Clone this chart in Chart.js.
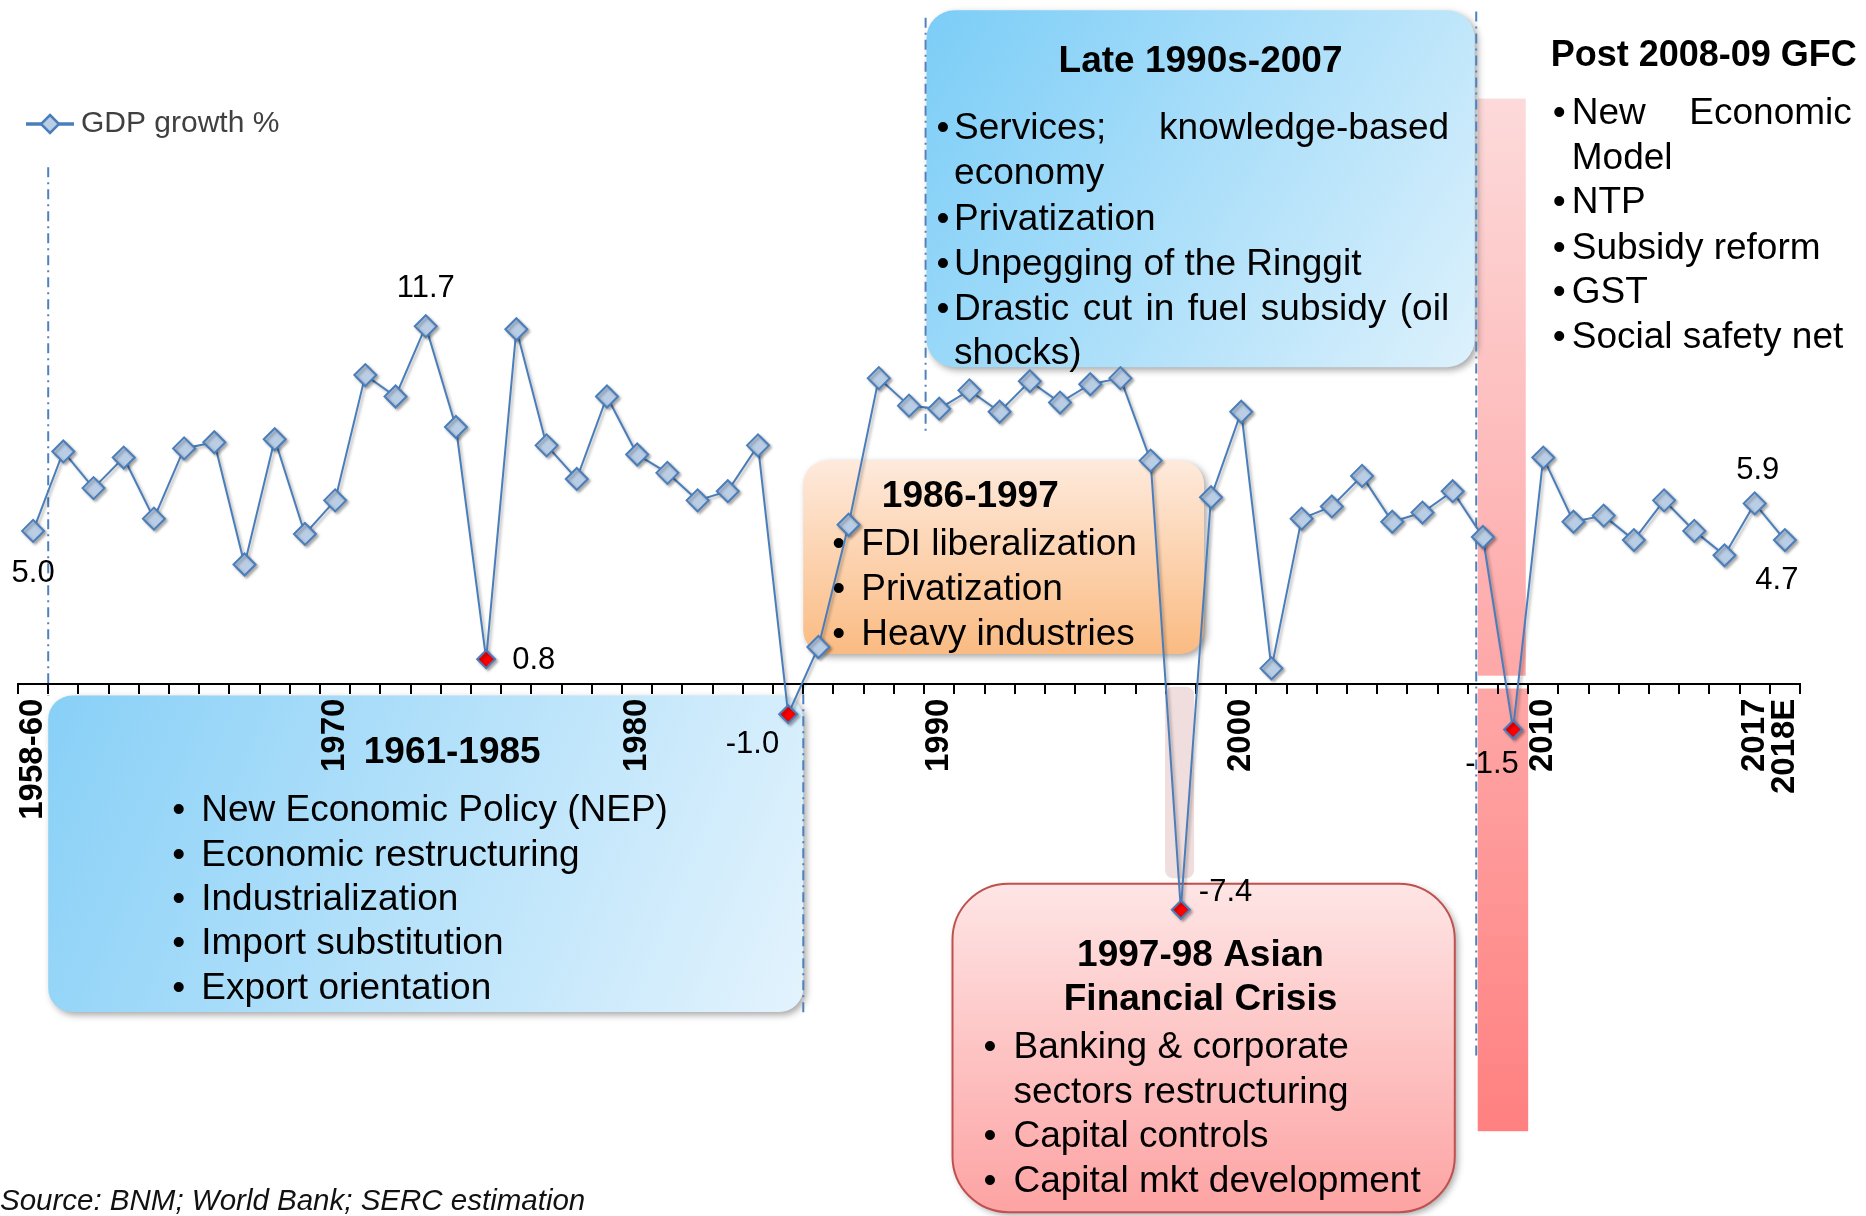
<!DOCTYPE html>
<html>
<head>
<meta charset="utf-8">
<script src="https://cdn.jsdelivr.net/npm/chart.js@4.4.1/dist/chart.umd.min.js"></script>
<style>
  body { margin: 0; background: #fff; }
  canvas { display: block; }
</style>
</head>
<body>
<canvas id="gdpChart" width="1866" height="1216"></canvas>
<script>
const FONT = "'Liberation Sans', Arial, sans-serif";

// categories: 1958-60 average, then one point per year up to the 2018 estimate
const years = ['1958-60'];
for (let y = 1961; y <= 2017; y++) years.push(String(y));
years.push('2018E');

// GDP growth %
const gdpGrowth = [
  5.0, 7.6, 6.4, 7.4, 5.4, 7.7, 7.9, 3.9, 8.0, 4.9,
  6.0, 10.1, 9.4, 11.7, 8.4, 0.8, 11.6, 7.8, 6.7, 9.4,
  7.5, 6.9, 6.0, 6.3, 7.8, -1.0, 1.2, 5.2, 10.0, 9.1,
  9.0, 9.6, 8.9, 9.9, 9.2, 9.8, 10.0, 7.3, -7.4, 6.1,
  8.9, 0.5, 5.4, 5.8, 6.8, 5.3, 5.6, 6.3, 4.8, -1.5,
  7.4, 5.3, 5.5, 4.7, 6.0, 5.0, 4.2, 5.9, 4.7
];

const shownTicks = ['1958-60', '1970', '1980', '1990', '2000', '2010', '2017', '2018E'];
const troughYears = ['1975', '1985', '1998', '2009'];   // red markers
const labelledYears = ['1958-60', '1973', '1975', '1985', '1998', '2009', '2017', '2018E'];

// where each value label sits relative to its point: dx, dy, align
const labelPlace = {
  '1958-60': [0, 43, 'center'], '1973': [0, -38, 'center'], '1975': [26, 1, 'left'],
  '1985': [-9, 30, 'right'], '1998': [18, -17, 'left'], '2009': [-21, 35, 'center'],
  '2017': [3, -33, 'center'], '2018E': [-8, 40, 'center']
};

// period boxes, anchored on category position (from/to) and value (top/bottom)
const boxes = [
  { from: 0.5, to: 25.5, top: -0.39, bottom: -10.75, r: 24, grad: 'diag', colors: ['#88D0F7', '#E3F3FD'],
    titles: [['1961-1985', 404, 54]], bulletX: 124, textX: 153,
    items: [['New Economic Policy (NEP)', 112], ['Economic restructuring', 157], ['Industrialization', 201.5],
            ['Import substitution', 245.5], ['Export orientation', 290.7]] },
  { from: 25.5, to: 38.77, top: 7.31, bottom: 0.97, r: 24, grad: 'vert', colors: ['#FEEADC', '#FABB82'],
    titles: [['1986-1997', 167, 33.5]], bulletX: 29, textX: 58,
    items: [['FDI liberalization', 81], ['Privatization', 126.3], ['Heavy industries', 171.5]] },
  { from: 29.58, to: 47.73, top: 22.04, bottom: 10.36, r: 28, grad: 'diag', colors: ['#7BCDF7', '#DDF1FC'],
    titles: [['Late 1990s-2007', 274, 48.8]], bulletX: 10, textX: 27.6,
    items: [['Services; knowledge-based', 115.5, true, 522.6], ['economy', 160.5, false], ['Privatization', 206],
            ['Unpegging of the Ringgit', 251], ['Drastic cut in fuel subsidy (oil', 296.3, true, 522.6], ['shocks)', 340.4, false]] },
  { from: 30.44, to: 47.07, top: -6.55, bottom: -17.3, r: 56, grad: 'vert', colors: ['#FEE5E5', '#FDA3A3'], border: '#C0504D',
    titles: [['1997-98 Asian', 248, 69], ['Financial Crisis', 248, 113]], bulletX: 31, textX: 61,
    items: [['Banking & corporate', 160.7], ['sectors restructuring', 206, false], ['Capital controls', 250],
            ['Capital mkt development', 295]] },
  { from: 49.42, to: 58.9, top: 22.02, bottom: 10, r: 0, colors: null, titleSize: 36,
    titles: [['Post 2008-09 GFC', 178, 42.5]], bulletX: 27, textX: 46,
    items: [['New Economic', 100, true, 326], ['Model', 145, false], ['NTP', 189], ['Subsidy reform', 234.5],
            ['GST', 278.5], ['Social safety net', 323.5]] }
];
const TEXT_NUDGE = 3;

// dash-dot period dividers: category position, value from, value to
const dividers = [[0.5, 16.9, -0.4], [25.5, -0.35, -10.9], [29.55, 21.8, 8.2], [47.78, 22.0, -12.3]];

function roundRect(ctx, x, y, w, h, r) {
  ctx.beginPath();
  ctx.moveTo(x + r, y);
  ctx.arcTo(x + w, y, x + w, y + h, r);
  ctx.arcTo(x + w, y + h, x, y + h, r);
  ctx.arcTo(x, y + h, x, y, r);
  ctx.arcTo(x, y, x + w, y, r);
  ctx.closePath();
}

function justify(ctx, text, left, right, y) {
  const words = text.split(' ');
  const total = words.reduce((s, w) => s + ctx.measureText(w).width, 0);
  const gap = (right - left - total) / (words.length - 1);
  let x = left;
  words.forEach(w => { ctx.fillText(w, x, y); x += ctx.measureText(w).width + gap; });
}

const periodsPlugin = {
  id: 'periods',
  beforeDraw(chart) {
    const ctx = chart.ctx;
    const xs = chart.scales.x, ys = chart.scales.y;
    const step = xs.getPixelForValue(1) - xs.getPixelForValue(0);
    const X = f => xs.getPixelForValue(0) + f * step;
    const Y = v => ys.getPixelForValue(v);
    ctx.save();

    // GFC band, split around the axis
    const gTop = Y(19.15), gBot = Y(-14.65);
    const gg = ctx.createLinearGradient(0, gTop, 0, gBot);
    gg.addColorStop(0, '#FDDADA');
    gg.addColorStop(1, '#FF8080');
    ctx.fillStyle = gg;
    ctx.fillRect(X(47.83), gTop, X(49.42) - X(47.83), Y(0.26) - gTop);
    ctx.fillRect(X(47.83), Y(-0.16), X(49.5) - X(47.83), gBot - Y(-0.16));

    // 1998 connector
    ctx.fillStyle = 'rgba(222,180,180,0.45)';
    roundRect(ctx, X(37.48), Y(-0.1), X(38.44) - X(37.48), Y(-6.37) - Y(-0.1), 8);
    ctx.fill();

    boxes.forEach(b => {
      const l = X(b.from), t = Y(b.top), w = X(b.to) - l, h = Y(b.bottom) - t;
      if (b.colors) {
        const g = b.grad === 'diag' ? ctx.createLinearGradient(l, t, l + w, t + h) : ctx.createLinearGradient(0, t, 0, t + h);
        g.addColorStop(0, b.colors[0]);
        g.addColorStop(1, b.colors[1]);
        ctx.save();
        ctx.shadowColor = 'rgba(0,0,0,0.35)';
        ctx.shadowBlur = 7;
        ctx.shadowOffsetX = 3;
        ctx.shadowOffsetY = 3;
        roundRect(ctx, l, t, w, h, b.r);
        ctx.fillStyle = g;
        ctx.fill();
        ctx.restore();
        if (b.border) {
          roundRect(ctx, l, t, w, h, b.r);
          ctx.strokeStyle = b.border;
          ctx.lineWidth = 2;
          ctx.stroke();
        }
      }
      const ty = t + TEXT_NUDGE;
      ctx.fillStyle = '#000';
      ctx.textBaseline = 'middle';
      ctx.font = 'bold ' + (b.titleSize || 37) + 'px ' + FONT;
      ctx.textAlign = 'center';
      b.titles.forEach(([s, dx, dy]) => ctx.fillText(s, l + dx, ty + dy));
      ctx.font = '37px ' + FONT;
      ctx.textAlign = 'left';
      b.items.forEach(([s, dy, bullet, right]) => {
        if (bullet !== false) ctx.fillText('\u2022', l + b.bulletX, ty + dy);
        if (right) justify(ctx, s, l + b.textX, l + right, ty + dy);
        else ctx.fillText(s, l + b.textX, ty + dy);
      });
    });

    ctx.strokeStyle = '#4F81BD';
    ctx.lineWidth = 2;
    ctx.setLineDash([10, 5, 2, 5]);
    dividers.forEach(([f, v0, v1]) => {
      ctx.beginPath();
      ctx.moveTo(X(f), Y(v0));
      ctx.lineTo(X(f), Y(v1));
      ctx.stroke();
    });
    ctx.restore();
  },
  beforeDatasetsDraw(chart) {
    const ctx = chart.ctx;
    ctx.save();
    ctx.shadowColor = 'rgba(0,0,0,0.3)';
    ctx.shadowBlur = 3;
    ctx.shadowOffsetX = 2;
    ctx.shadowOffsetY = 2;
  },
  afterDatasetsDraw(chart) {
    const ctx = chart.ctx;
    ctx.restore();
    const pts = chart.getDatasetMeta(0).data;
    ctx.save();
    ctx.fillStyle = '#000';
    ctx.font = '31px ' + FONT;
    ctx.textBaseline = 'middle';
    labelledYears.forEach(yr => {
      const i = years.indexOf(yr);
      const [dx, dy, align] = labelPlace[yr];
      ctx.textAlign = align;
      ctx.fillText(gdpGrowth[i].toFixed(1), pts[i].x + dx, pts[i].y + dy);
    });
    ctx.restore();
  },
  afterDraw(chart) {
    const ctx = chart.ctx;
    ctx.save();
    ctx.fillStyle = '#111';
    ctx.font = 'italic 29.5px ' + FONT;
    ctx.textBaseline = 'middle';
    ctx.textAlign = 'left';
    ctx.fillText('Source: BNM; World Bank; SERC estimation', 0, 1202);
    ctx.restore();
  }
};

// legend symbol: line with a diamond (blank strip on the left to sit it where the original does)
const legendIcon = document.createElement('canvas');
legendIcon.width = 54;
legendIcon.height = 22;
const lc = legendIcon.getContext('2d');
lc.strokeStyle = '#4A7EBB';
lc.lineWidth = 3.5;
lc.beginPath(); lc.moveTo(6, 11); lc.lineTo(54, 11); lc.stroke();
lc.beginPath(); lc.moveTo(30, 2); lc.lineTo(39, 11); lc.lineTo(30, 20); lc.lineTo(21, 11); lc.closePath();
lc.fillStyle = '#B9CDE5'; lc.fill();
lc.lineWidth = 2.5; lc.stroke();

Chart.defaults.font.family = FONT;

new Chart(document.getElementById('gdpChart'), {
  type: 'line',
  data: {
    labels: years,
    datasets: [{
      label: 'GDP growth %',
      data: gdpGrowth,
      borderColor: '#4A7EBB',
      borderWidth: 2,
      tension: 0,
      pointStyle: 'rectRot',
      pointRadius: years.map(y => troughYears.includes(y) ? 9 : 11),
      pointBackgroundColor: years.map(y => troughYears.includes(y) ? '#FF0000' : '#B9CDE5'),
      pointBorderColor: '#4A7EBB',
      pointBorderWidth: 2
    }]
  },
  options: {
    responsive: false,
    animation: false,
    layout: { padding: { top: 99, left: 18, right: 66, bottom: 3 } },
    plugins: {
      legend: {
        position: 'top',
        align: 'start',
        labels: {
          usePointStyle: true,
          pointStyle: legendIcon,
          pointStyleWidth: 38,
          padding: 10,
          color: '#404040',
          font: { family: FONT, size: 30 }
        }
      },
      tooltip: { enabled: false }
    },
    scales: {
      x: {
        position: { y: 0 },
        offset: true,
        grid: { offset: true, drawOnChartArea: false, drawTicks: true, tickLength: 9, color: '#000', lineWidth: 2 },
        border: { display: true, color: '#000', width: 2 },
        ticks: {
          autoSkip: false,
          minRotation: 90,
          maxRotation: 90,
          padding: 6,
          color: '#000',
          font: { family: FONT, size: 33, weight: 'bold' },
          callback: function (v) {
            const l = this.getLabelForValue(v);
            return shownTicks.includes(l) ? l : '';
          }
        }
      },
      y: { min: -17, max: 17.5, display: false }
    }
  },
  plugins: [periodsPlugin]
});
</script>
</body>
</html>
